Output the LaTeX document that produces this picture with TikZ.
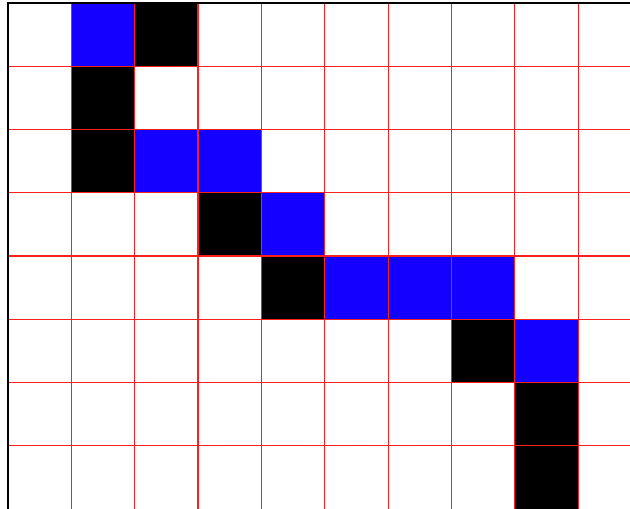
\documentclass[tikz,border=0pt]{standalone}
\definecolor{cellblue}{RGB}{20,0,255}
\definecolor{gridred}{RGB}{255,30,30}
\tikzset{
  bluecell/.style={fill=cellblue},
  blackcell/.style={fill=black},
  gridline/.style={draw=gridred, line width=1.2pt},
}
\begin{document}
\begin{tikzpicture}[x=1pt,y=-1pt]
\useasboundingbox (0,0) rectangle (630,509);
\begin{scope}
\clip (0,0) rectangle (630,509);
\fill[white] (0,0) rectangle (630,509);
\def\cw{63.35}
\def\ch{63.25}
\def\ox{8}
\def\oy{3}
% blue cells
\foreach \c/\r in {1/0,2/2,3/2,4/3,5/4,6/4,7/4,8/5}
  \path[bluecell] ({\ox+\c*\cw},{\oy+\r*\ch}) rectangle ++(\cw,\ch);
% black cells
\foreach \c/\r in {2/0,1/1,1/2,3/3,4/4,7/5,8/6,8/7}
  \path[blackcell] ({\ox+\c*\cw},{\oy+\r*\ch}) rectangle ++(\cw,\ch);
% grid
\foreach \i in {1,...,9}
  \draw[gridline] ({\ox+\i*\cw},\oy) -- ({\ox+\i*\cw},509);
\foreach \j in {1,...,7}
  \draw[gridline] (\ox,{\oy+\j*\ch}) -- (630,{\oy+\j*\ch});
% border
\draw[black, line width=1.5pt] (\ox,509) -- (\ox,\oy) -- (630,\oy);
\end{scope}
\end{tikzpicture}
\end{document}
